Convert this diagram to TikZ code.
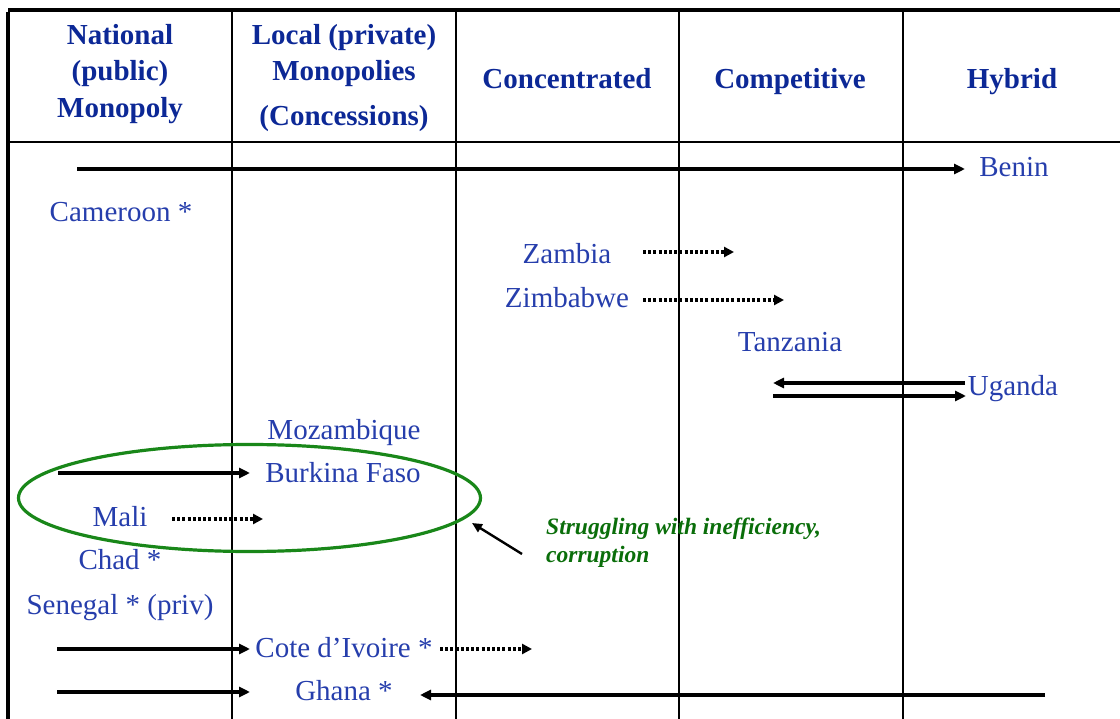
\documentclass[tikz,border=0pt]{standalone}
\usepackage{fontspec}
\setmainfont{Liberation Serif}
\usetikzlibrary{arrows.meta,shapes.geometric}
\definecolor{hdrblue}{RGB}{12,40,150}
\definecolor{txtblue}{RGB}{38,62,172}
\definecolor{elgreen}{RGB}{25,135,25}
\definecolor{notegreen}{RGB}{10,110,10}
\begin{document}
\begin{tikzpicture}[x=1pt,y=-1pt,
  gridline/.style={line width=1.6pt, black},
  frameline/.style={line width=4pt, black},
  hdr/.style={font=\fontsize{29}{36}\selectfont\bfseries, text=hdrblue, inner sep=0pt, text height=19pt, text depth=0pt},
  entry/.style={font=\fontsize{29}{34}\selectfont, text=txtblue, inner sep=0pt, text height=19pt, text depth=0pt},
  note/.style={font=\fontsize{23.5}{28}\selectfont\bfseries\itshape, text=notegreen, inner sep=0pt, anchor=base west},
  sarrow/.style={line width=3.6pt, -{Triangle[length=11pt,width=10pt]}},
  darrow/.style={line width=3.2pt, dash pattern=on 3pt off 2.2pt, -{Triangle[length=10pt,width=10pt]}},
  parrow/.style={line width=2.4pt, -{Triangle[length=10pt,width=9pt]}},
  oval/.style={draw=elgreen, line width=3.2pt, ellipse, inner sep=0pt, minimum width=462pt, minimum height=107pt}
]
\useasboundingbox (0,0) rectangle (1120,719);

% table grid
\coordinate (tl) at (8,10);
\coordinate (tr) at (1120,10);
\coordinate (bl) at (8,719);
\coordinate (hl) at (8,142);
\coordinate (hr) at (1120,142);
\foreach \x/\n in {232/a,456/b,679/c,903/d}{
  \coordinate (v\n t) at (\x,10);
  \coordinate (v\n b) at (\x,719);
  \draw[gridline] (v\n t) -- (v\n b);
}
\draw[gridline] (hl) -- (hr);
\draw[frameline] (tl) -- (tr);
\draw[frameline] ([yshift=-2pt]tl) -- (bl);

% header
\node[hdr] (h1a) at (120,35) {National};
\node[hdr] (h1b) at (120,71) {(public)};
\node[hdr] (h1c) at (120,108) {Monopoly};
\node[hdr] (h2a) at (344,35) {Local (private)};
\node[hdr] (h2b) at (344,71) {Monopolies};
\node[hdr] (h2c) at (344,116) {(Concessions)};
\node[hdr] (h3) at (567,79) {Concentrated};
\node[hdr] (h4) at (790,79) {Competitive};
\node[hdr] (h5) at (1012,79) {Hybrid};

% entries
\node[entry] (benin) at (1014,167) {Benin};
\node[entry] (cameroon) at (121,212) {Cameroon *};
\node[entry] (zambia) at (567,254) {Zambia};
\node[entry] (zimbabwe) at (567,298) {Zimbabwe};
\node[entry] (tanzania) at (790,342) {Tanzania};
\node[entry] (uganda) at (1013,386) {Uganda};
\node[entry] (mozambique) at (344,430) {Mozambique};
\node[entry] (burkina) at (343,473) {Burkina Faso};
\node[entry] (mali) at (120,517) {Mali};
\node[entry] (chad) at (120,560) {Chad *};
\node[entry] (senegal) at (120,605) {Senegal * (priv)};
\node[entry] (cote) at (344,648) {Cote d'Ivoire *};
\node[entry] (ghana) at (344,691) {Ghana *};

% arrows
\coordinate (beninS) at (77,169);
\coordinate (beninT) at (965,169);
\draw[sarrow] (beninS) -- (beninT);

\coordinate (zamS) at (643,252);
\coordinate (zamT) at (734,252);
\draw[darrow] (zamS) -- (zamT);
\coordinate (zimS) at (643,300);
\coordinate (zimT) at (784,300);
\draw[darrow] (zimS) -- (zimT);

\coordinate (ugA) at (965,383);
\coordinate (ugB) at (773,383);
\coordinate (ugC) at (773,396);
\coordinate (ugD) at (966,396);
\draw[sarrow] (ugA) -- (ugB);
\draw[sarrow] (ugC) -- (ugD);

\coordinate (bfS) at (58,473);
\coordinate (bfT) at (250,473);
\draw[sarrow] (bfS) -- (bfT);

\coordinate (maliS) at (172,519);
\coordinate (maliT) at (263,519);
\draw[darrow] (maliS) -- (maliT);

\coordinate (ciS) at (57,649);
\coordinate (ciT) at (250,649);
\draw[sarrow] (ciS) -- (ciT);
\coordinate (ciD) at (440,649);
\coordinate (ciE) at (532,649);
\draw[darrow] (ciD) -- (ciE);

\coordinate (ghS) at (57,692);
\coordinate (ghT) at (250,692);
\draw[sarrow] (ghS) -- (ghT);
\coordinate (ghR) at (1045,695);
\coordinate (ghL) at (420,695);
\draw[sarrow] (ghR) -- (ghL);

% oval and note
\node[oval] (group) at (249.5,498) {};
\node[note] (note1) at (546,534) {Struggling with inefficiency,};
\node[note] (note2) at (546,562) {corruption};
\coordinate (noteS) at (522,554);
\coordinate (noteT) at (472,523);
\draw[parrow] (noteS) -- (noteT);
\end{tikzpicture}
\end{document}
